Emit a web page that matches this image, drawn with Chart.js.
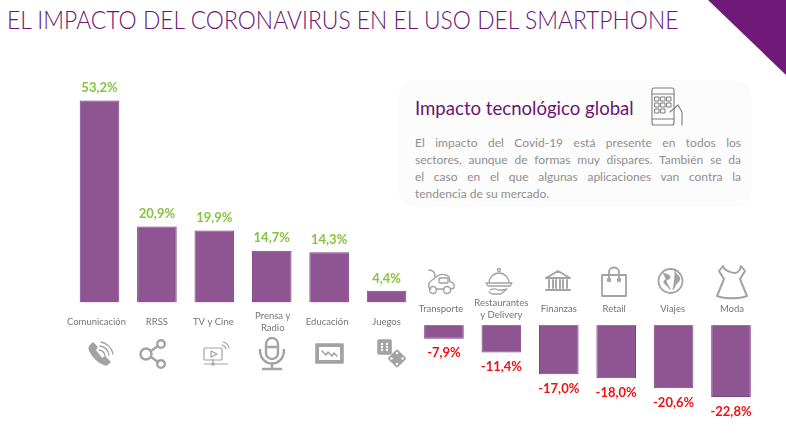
<!DOCTYPE html>
<html lang="es"><head><meta charset="utf-8">
<style>
html,body{margin:0;padding:0;background:#fff;width:786px;height:440px;overflow:hidden;font-family:Lato,sans-serif}
#wrap{position:relative;width:786px;height:440px}
canvas{position:absolute;left:0;top:0}
#title{position:absolute;left:7px;top:4px;font-size:24.6px;font-weight:300;color:#6a1573;white-space:nowrap;line-height:32px;transform:scaleX(.93);transform-origin:0 0}
#corner{position:absolute;left:0;top:0}
#panel{position:absolute;left:398px;top:80px;width:354px;height:127px;background:#fcfcfc;border-radius:18px}
#ptitle{position:absolute;left:415px;top:95px;font-size:18.6px;font-weight:400;color:#6a1573;white-space:nowrap;line-height:26px}
#pbody{position:absolute;left:415px;top:133.500px;width:326px;font-size:12px;line-height:17px;color:#8f8f8f}
#pbody div{text-align:justify;text-align-last:justify;white-space:nowrap}
#pbody div:last-child{text-align-last:left}
</style></head><body>
<div id="wrap">
<svg id="corner" width="786" height="440" viewBox="0 0 786 440"><polygon points="708,0 786,0 786,75" fill="#6f1a78"/></svg>
<div id="title">EL IMPACTO DEL CORONAVIRUS EN EL USO DEL SMARTPHONE</div>
<div id="panel"></div>
<div id="ptitle">Impacto tecnológico global</div>
<div id="pbody"><div>El impacto del Covid-19 está presente en todos los</div><div>sectores, aunque de formas muy dispares. También se da</div><div>el caso en el que algunas aplicaciones van contra la</div><div>tendencia de su mercado.</div></div>
<canvas id="c" width="786" height="440"></canvas>
<svg id="icons" width="786" height="440" viewBox="0 0 786 440" style="position:absolute;left:0;top:0" fill="none" stroke="#a3a3a3" stroke-width="1.6" stroke-linecap="round" stroke-linejoin="round">
<!-- panel phone -->
<g stroke="#7d7d7d" stroke-width="1.1"><rect x="652" y="88" width="22" height="37" rx="2"/><path d="M652 94h22M652 119h22"/><g stroke-width="1"><rect x="655" y="97" width="4" height="4"/><rect x="661" y="97" width="4" height="4"/><rect x="667" y="97" width="4" height="4"/><rect x="655" y="103" width="4" height="4"/><rect x="661" y="103" width="4" height="4"/><rect x="667" y="103" width="4" height="4"/><rect x="655" y="109" width="4" height="4"/><rect x="661" y="109" width="4" height="4"/></g><path d="M670 112l8-7 4 7v13"/></g>
<!-- call -->
<path d="M90 346c-3 4 6 16 16 19l4-3-5-5-3 2-7-9 2-3-4-4z" fill="#a3a3a3" stroke="#a3a3a3"/><path d="M99 350a7 7 0 0 1 6 6M100 346a11 11 0 0 1 9 9M101 342a15 15 0 0 1 12 12" stroke-width="1.3"/>
<!-- share -->
<g stroke-width="2.4"><circle cx="146" cy="354" r="5.500"/><circle cx="161" cy="344" r="3.800"/><circle cx="161" cy="364" r="3.800"/><path d="M151 351l7-5M151 357l7 5"/></g>
<!-- tv -->
<g stroke-width="1.2"><rect x="204" y="348" width="18" height="12" rx="1"/><path d="M211 351l6 3-6 3zM204 364h24M213 360v4"/><circle cx="213" cy="364" r="1.200"/><path d="M222 345a5 5 0 0 1 4 4M223 342a8 8 0 0 1 6 6"/></g>
<!-- mic -->
<g stroke-width="2.4"><rect x="266" y="338" width="12" height="21" rx="6"/><path d="M266 347h12M260 350c0 18 24 18 24 0M272 364v4M263 369h18"/></g>
<!-- edu -->
<g><rect x="316" y="344" width="27" height="19" fill="#a3a3a3" stroke="#a3a3a3"/><rect x="319" y="347" width="21" height="13" fill="#fff" stroke="none"/><path d="M322 351l4 4 2-3 4 4 2-3 3 3" stroke="#a3a3a3" stroke-width="1.6"/></g>
<!-- dice -->
<g fill="#a3a3a3" stroke="#a3a3a3"><rect x="378" y="340" width="13" height="14" rx="1"/><rect x="391" y="352.500" width="12" height="12" rx="1" transform="rotate(45 397 358.500)"/></g>
<g fill="#fff" stroke="none"><circle cx="382" cy="344" r="1.200"/><circle cx="387" cy="344" r="1.200"/><circle cx="382" cy="347" r="1.200"/><circle cx="387" cy="347" r="1.200"/><circle cx="382" cy="350" r="1.200"/><circle cx="387" cy="350" r="1.200"/><circle cx="397" cy="353" r="1.200"/><circle cx="397" cy="364" r="1.200"/><circle cx="391.500" cy="358.500" r="1.200"/><circle cx="402.500" cy="358.500" r="1.200"/></g>
<!-- car -->
<g stroke-width="1.4"><path d="M429 270c4 0 6 3 6 7M431 289c-3 0-3-6 0-8 2-2 4-2 5-4l3-2c3-1 8-1 10 2l1 5c3 0 5 2 4 6l-3 1M436 289h8"/><rect x="439" y="278" width="9" height="5" rx="1"/><circle cx="433" cy="290" r="3.500"/><circle cx="447" cy="290" r="3.500"/></g>
<!-- cloche -->
<g stroke-width="1.3"><circle cx="499" cy="270" r="1.500"/><path d="M489 283a10 10 0 0 1 20 0M486 283h26l-2 3h-22zM490 290c3-2 6-1 8 0h5l4-1-6 5h-9l-3-2"/></g>
<!-- bank -->
<g stroke-width="1.900"><path d="M546 278l12-7 12 7zM549 280v8M553 280v8M556 280v8M560 280v8M563 280v8M567 280v8M546 290h24"/></g>
<!-- bag -->
<g stroke-width="1.800"><rect x="602" y="275" width="24" height="21"/><path d="M609 279v-7c0-6 10-6 10 0v7"/><circle cx="609" cy="280" r="1.300"/><circle cx="619" cy="280" r="1.300"/></g>
<!-- globe -->
<g stroke-width="1.800"><circle cx="670.500" cy="281" r="12"/><path d="M663 273c3 2 6 1 7 4-1 3-5 2-6 5 1 3 5 4 6 7M675 271c-1 3 2 3 3 5 3 2 1 5-1 7-2 1-2 4-4 6" fill="#a3a3a3" stroke-width="1.400"/></g>
<!-- dress -->
<g stroke-width="2"><path d="M722 265l-4 5 5 8-7 17c8 3 22 3 30 0l-7-17 5-8-4-5c-1 5-4 7-6 7s-11-2-12-7z" transform="translate(1 1)"/></g>
</svg>
</div>
<script src="https://cdn.jsdelivr.net/npm/chart.js@4/dist/chart.umd.min.js"></script>
<script>
const categories = ["Comunicación","RRSS","TV y Cine","Prensa y Radio","Educación","Juegos","Transporte","Restaurantes y Delivery","Finanzas","Retail","Viajes","Moda"];
const tickLines = [["Comunicación"],["RRSS"],["TV y Cine"],["Prensa y","Radio"],["Educación"],["Juegos"],["Transporte"],["Restaurantes","y Delivery"],["Finanzas"],["Retail"],["Viajes"],["Moda"]];
const tickNudge = [-3,0,-1,1,-2,0,-3,0,0,-2,-1,1];
const impact = [53.2,20.9,19.9,14.7,14.3,4.4,-7.9,-11.4,-17.0,-18.0,-20.6,-22.8];
const valueLabels = ["53,2%","20,9%","19,9%","14,7%","14,3%","4,4%","-7,9%","-11,4%","-17,0%","-18,0%","-20,6%","-22,8%"];

const bandPlugin = {
  id:'band',
  afterDatasetsDraw(chart){
    const {ctx,scales:{x,y},chartArea:a}=chart;
    const meta=chart.getDatasetMeta(0);
    ctx.save();
    // white label strip that interrupts the bars around the zero line
    const top=y.getPixelForValue(1.5), bot=y.getPixelForValue(-4.4);
    ctx.fillStyle='#fff';
    ctx.fillRect(a.left,top,a.width,bot-top);
    ctx.textAlign='center';ctx.textBaseline='middle';
    impact.forEach((v,i)=>{
      const cx=x.getPixelForValue(i), el=meta.data[i];
      ctx.font='700 13px Lato, sans-serif';
      ctx.fillStyle=v>=0?'#86c440':'#f01010';
      ctx.fillText(valueLabels[i],cx,v>=0?el.y-12.5:el.y+14.5);
      ctx.font='400 9.5px Lato, sans-serif';
      ctx.fillStyle='#757575';
      const ls=tickLines[i];
      const mid=v>=0?y.getPixelForValue(-3.6):y.getPixelForValue(-0.25);
      ls.forEach((t,k)=>ctx.fillText(t,cx+tickNudge[i],mid+(k-(ls.length-1)/2)*12));
    });
    ctx.restore();
  }
};
new Chart(document.getElementById('c'),{
  type:'bar',
  data:{labels:categories,datasets:[{data:impact,backgroundColor:'#8e5592',borderColor:'#7c3f83',borderWidth:1,barPercentage:.69,categoryPercentage:1}]},
  options:{
    responsive:false,animation:false,
    layout:{padding:{left:70.8,right:26.3,top:74,bottom:15}},
    plugins:{legend:{display:false},tooltip:{enabled:false}},
    scales:{
      x:{display:false},
      y:{display:false,min:-30,max:60}
    }
  },
  plugins:[bandPlugin]
});
</script>
</body></html>
